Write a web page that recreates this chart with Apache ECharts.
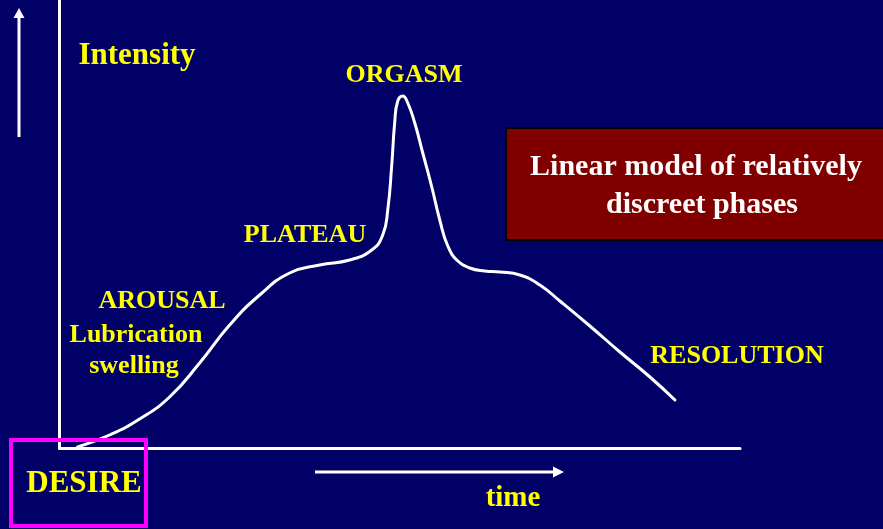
<!DOCTYPE html>
<html>
<head>
<meta charset="utf-8">
<script src="https://cdn.jsdelivr.net/npm/echarts@6/dist/echarts.min.js"></script>
<style>
html,body{margin:0;padding:0;background:#000066;}
#c{width:883px;height:529px;}
</style>
</head>
<body>
<div id="c"></div>
<script>
// Response curve: time (x) vs intensity (y)
var timeValues = [18,50,80,110,140,170,200,230,260,290,312,323,328,332,335,338,343,348,355,363,372,380,388,398,410,425,440,460,480,500,530,560,590,615];
var intensityValues = [1,13,29,51,85,123,153,175,183,188,198,213,238,283,326,347,352,345,325,295,261,228,202,187,180,177,176,173,163,147,122,96,71,48];
var phaseLabels = ['ORGASM','PLATEAU','AROUSAL','Lubrication','swelling','RESOLUTION','DESIRE'];
var axisLabels = ['Intensity','time'];
var noteLines = ['Linear model of relatively','discreet phases'];

var curve = timeValues.map(function(t,i){return [t,intensityValues[i]];});
var FONT = '"Liberation Serif","Times New Roman",serif';
var YEL = '#FFFF00';
function txt(s,x,y,fs,color){
  return {type:'text',x:x,y:y,z:20,style:{text:s,fill:color||YEL,font:'bold '+fs+'px '+FONT,textAlign:'center',textVerticalAlign:'middle'}};
}

var chart = echarts.init(document.getElementById('c'));
chart.setOption({
  backgroundColor:'#000066',
  animation:false,
  grid:{left:59.5,top:0,right:143,bottom:81},
  xAxis:{type:'value',min:0,max:680,axisLine:{show:true,onZero:false,lineStyle:{color:'#fff',width:3}},axisTick:{show:false},axisLabel:{show:false},splitLine:{show:false}},
  yAxis:{type:'value',min:0,max:448,axisLine:{show:true,onZero:false,lineStyle:{color:'#fff',width:3}},axisTick:{show:false},axisLabel:{show:false},splitLine:{show:false}},
  series:[{type:'line',data:curve,smooth:0.5,showSymbol:false,lineStyle:{color:'#fff',width:3,cap:'round',join:'round'},z:5}],
  graphic:[
    // note box
    {type:'rect',shape:{x:506,y:128,width:390,height:112},style:{fill:'#800000',stroke:'#000',lineWidth:2},z:10},
    txt(noteLines[0],696,167,30,'#fff'),
    txt(noteLines[1],702,205,30,'#fff'),
    // left arrow
    {type:'line',shape:{x1:19,y1:137,x2:19,y2:16},style:{stroke:'#fff',lineWidth:3},z:10},
    {type:'polygon',shape:{points:[[19,8],[13.5,18],[24.5,18]]},style:{fill:'#fff'},z:10},
    // bottom arrow
    {type:'line',shape:{x1:315,y1:472,x2:555,y2:472},style:{stroke:'#fff',lineWidth:3},z:10},
    {type:'polygon',shape:{points:[[564,472],[553,466.5],[553,477.5]]},style:{fill:'#fff'},z:10},
    // desire box
    {type:'rect',shape:{x:11,y:440,width:135,height:86},style:{fill:'none',stroke:'#FF00FF',lineWidth:4},z:15},
    txt(axisLabels[0],137,56,31),
    txt(axisLabels[1],513,499,29),
    txt(phaseLabels[0],404,75,26),
    txt(phaseLabels[1],305,235,26),
    txt(phaseLabels[2],162,301,26),
    txt(phaseLabels[3],136,335,26),
    txt(phaseLabels[4],134,366,26),
    txt(phaseLabels[5],737,356,26),
    txt(phaseLabels[6],84,484,31)
  ]
});
</script>
</body>
</html>
